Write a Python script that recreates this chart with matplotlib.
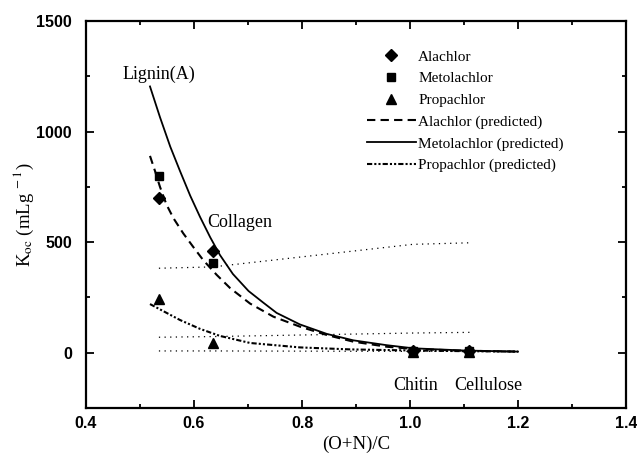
import numpy as np
import matplotlib
matplotlib.use("Agg")
import matplotlib.pyplot as plt
from matplotlib.ticker import MultipleLocator, FormatStrFormatter

# ── dati ─────────────────────────────────────────────────────
x_obs          = [0.535, 0.635, 1.005, 1.11]
alachlor       = [700, 460, 6, 6]
metolachlor    = [800, 405, 6, 6]
propachlor     = [245, 45, 4, 4]

x_meto_pred    = [0.5185, 0.537, 0.556, 0.574, 0.593, 0.611, 0.630, 0.648, 0.672,
                  0.701, 0.728, 0.753, 0.796, 0.846, 0.895, 0.957, 1.006, 1.1, 1.2]
meto_pred      = [1204, 1065, 932, 822, 710, 615, 522, 442, 356,
                  279, 227, 180, 128, 85, 56, 34, 20, 10, 5]
x_ala_pred     = [0.5185, 0.528, 0.537, 0.549, 0.562, 0.580, 0.599, 0.617, 0.633,
                  0.642, 0.667, 0.704, 0.747, 0.796, 0.846, 0.895, 0.957, 1.006, 1.1, 1.2]
ala_pred       = [890, 820, 750, 670, 608, 540, 477, 419, 376,
                  352, 292, 222, 163, 118, 80, 50, 27, 17, 9, 5]
x_prop_pred    = [0.5185, 0.574, 0.611, 0.648, 0.704, 0.796, 0.889, 1.006, 1.1, 1.2]
prop_pred      = [220, 148, 108, 76, 44, 24, 15, 10, 7, 5]

x_dot          = [0.535, 0.635, 1.005, 1.11]
dot_upper      = [382, 388, 490, 497]
dot_middle     = [70, 73, 89, 92]
dot_lower      = [8, 8, 6, 6]

sorbents       = ["Lignin(A)", "Collagen", "Chitin", "Cellulose"]
sorbent_xy     = [(0.535, 1257), (0.625, 590), (1.011, -150), (1.145, -150)]
# ────────────────────────────────────────────────────────────

plt.rcParams['mathtext.fontset'] = 'stix'
SERIF = 'Liberation Serif'

fig = plt.figure(figsize=(6.37, 4.55), dpi=100)
ax = fig.add_axes([86/637, 1 - 408/455, 540/637, 387/455])

ax.plot(x_obs, alachlor, 'D', color='black', ms=6, label='Alachlor')
ax.plot(x_obs, metolachlor, 's', color='black', ms=5.5, label='Metolachlor')
ax.plot(x_obs, propachlor, '^', color='black', ms=6.5, label='Propachlor')
ax.plot(x_ala_pred, ala_pred, color='black', lw=1.5, ls=(0, (4, 2.5)),
        label='Alachlor (predicted)')
ax.plot(x_meto_pred, meto_pred, color='black', lw=1.3, ls='-',
        label='Metolachlor (predicted)')
ax.plot(x_prop_pred, prop_pred, color='black', lw=1.5, ls=(0, (2.5, 1, 1, 1, 1, 1)),
        label='Propachlor (predicted)')

for yy in (dot_upper, dot_middle, dot_lower):
    ax.plot(x_dot, yy, color='black', lw=0.9, ls=(0, (1, 3.5)))

for name, (xx, yy) in zip(sorbents, sorbent_xy):
    ha = 'left' if name == "Collagen" else 'center'
    ax.text(xx, yy, name, ha=ha, va='center', family=SERIF, fontsize=13)

ax.set_xlim(0.4, 1.4)
ax.set_ylim(-250, 1500)
ax.xaxis.set_major_locator(MultipleLocator(0.2))
ax.xaxis.set_minor_locator(MultipleLocator(0.1))
ax.yaxis.set_major_locator(MultipleLocator(500))
ax.yaxis.set_minor_locator(MultipleLocator(250))
ax.xaxis.set_major_formatter(FormatStrFormatter('%.1f'))
ax.tick_params(which='both', direction='in', top=True, right=True, width=1.3)
ax.tick_params(which='major', length=6, labelsize=11.5)
ax.tick_params(axis='x', which='major', pad=6)
ax.tick_params(axis='y', which='major', pad=10)
ax.tick_params(which='minor', length=3)
for lab in ax.get_xticklabels() + ax.get_yticklabels():
    lab.set_fontweight('bold')
    lab.set_family('Liberation Sans')
for sp in ax.spines.values():
    sp.set_linewidth(1.6)

ax.set_xlabel('(O+N)/C', family=SERIF, fontsize=13.5, labelpad=3)
ax.set_ylabel(r'K$_{\rm oc}$ (mLg$^{\ -1}$)', family=SERIF, fontsize=13.5, labelpad=0)

ax.legend(loc='upper left', bbox_to_anchor=(367/637, 1 - 50/455),
          bbox_transform=fig.transFigure, frameon=False, borderpad=0,
          borderaxespad=0, handlelength=3.2, handletextpad=0.15,
          labelspacing=0.52, prop={'family': SERIF, 'size': 11})

fig.savefig("out.png", dpi=100)
